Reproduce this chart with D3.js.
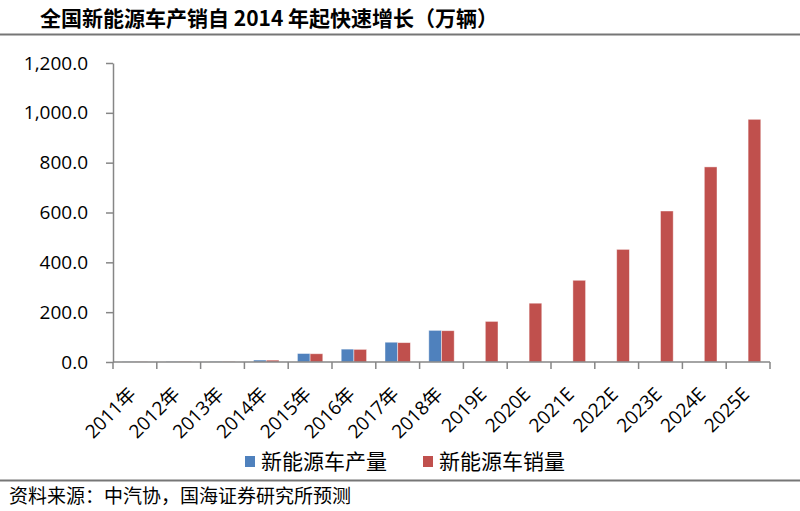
<!DOCTYPE html>
<html>
<head>
<meta charset="utf-8">
<script src="https://cdn.jsdelivr.net/npm/d3@7"></script>
<style>
  body { margin: 0; background: #fff; }
  svg { display: block; }
</style>
</head>
<body>
<div id="chart"></div>
<script>
// Data (万辆)
const years = ["2011年", "2012年", "2013年", "2014年", "2015年", "2016年", "2017年", "2018年",
    "2019E", "2020E", "2021E", "2022E", "2023E", "2024E", "2025E"];
const production = [0.84, 1.26, 1.75, 7.85, 34.05, 51.7, 79.4, 127.0,
    null, null, null, null, null, null, null];
const sales = [0.82, 1.28, 1.76, 7.48, 33.11, 50.7, 77.7, 125.6,
    163, 236, 328, 452, 606, 783, 974];
const seriesNames = ["新能源车产量", "新能源车销量"];
const seriesColors = ["#4F81BD", "#C0504D"];
const yTicks = [0, 200, 400, 600, 800, 1000, 1200];

const svgWidth = 800;
const svgHeight = 511;
const plot = { left: 113, right: 770, top: 63, bottom: 362 };

const svg = d3.select("#chart").append("svg")
    .attr("width", svgWidth)
    .attr("height", svgHeight);

const cjk = "'Noto Sans CJK SC', 'Noto Sans', sans-serif";
const latin = "'Open Sans', 'Noto Sans CJK SC', sans-serif";

// Title and separator lines
svg.append("text")
    .attr("x", 40)
    .attr("y", 26)
    .style("font-family", cjk)
    .style("font-size", "21px")
    .style("font-weight", "bold")
    .style("fill", "#000")
    .text("全国新能源车产销自 2014 年起快速增长（万辆）");

svg.append("line")
    .attr("x1", 0).attr("x2", svgWidth)
    .attr("y1", 34.5).attr("y2", 34.5)
    .style("stroke", "#767676")
    .style("stroke-width", 2);

svg.append("line")
    .attr("x1", 0).attr("x2", svgWidth)
    .attr("y1", 480.5).attr("y2", 480.5)
    .style("stroke", "#767676")
    .style("stroke-width", 2);

// Scales
const x = d3.scaleBand().domain(years).range([plot.left, plot.right]).paddingInner(0).paddingOuter(0);
const x1 = d3.scaleBand().domain([0, 1]).range([0, x.bandwidth()]).paddingInner(0).paddingOuter(0.725);
const y = d3.scaleLinear().domain([0, 1200]).range([plot.bottom, plot.top]);

// Bars
const rows = years.map((yr, i) => ({ year: yr, values: [production[i], sales[i]] }));

const groups = svg.append("g").selectAll("g")
    .data(rows)
    .enter().append("g")
    .attr("transform", d => `translate(${x(d.year)},0)`);

groups.selectAll("rect")
    .data(d => d.values.map((v, k) => ({ k: k, v: v })).filter(e => e.v !== null))
    .enter().append("rect")
    .attr("x", d => x1(d.k))
    .attr("width", x1.bandwidth())
    .attr("y", d => y(d.v))
    .attr("height", d => y(0) - y(d.v))
    .attr("fill", d => seriesColors[d.k])
    .style("stroke", "#ffffff")
    .style("stroke-opacity", 0.55)
    .style("stroke-width", 0.8);

// Y axis
const yAxis = svg.append("g")
    .attr("transform", `translate(${plot.left},0)`)
    .call(d3.axisLeft(y).tickValues(yTicks).tickFormat(d3.format(",.1f")).tickSize(7).tickPadding(18).tickSizeOuter(0));
yAxis.select(".domain").style("stroke", "#868686").style("stroke-width", 1.5);
yAxis.selectAll(".tick line").style("stroke", "#868686").style("stroke-width", 1.5);
yAxis.selectAll(".tick text")
    .style("font-family", latin)
    .style("font-size", "19px")
    .style("fill", "#000");

// X axis: line, boundary ticks, rotated labels
const xAxis = svg.append("g");
xAxis.append("line")
    .attr("x1", plot.left).attr("x2", plot.right)
    .attr("y1", y(0)).attr("y2", y(0))
    .style("stroke", "#868686")
    .style("stroke-width", 1.5);

xAxis.selectAll("line.tick")
    .data(d3.range(years.length + 1))
    .enter().append("line")
    .attr("class", "tick")
    .attr("x1", i => plot.left + i * x.step())
    .attr("x2", i => plot.left + i * x.step())
    .attr("y1", y(0))
    .attr("y2", y(0) + 7)
    .style("stroke", "#868686")
    .style("stroke-width", 1.5);

xAxis.selectAll("text")
    .data(years)
    .enter().append("text")
    .attr("transform", d => `translate(${x(d) + x.bandwidth() / 2 - 7},${y(0) + 24}) rotate(-45)`)
    .attr("text-anchor", "end")
    .attr("dy", "0.7em")
    .style("font-family", latin)
    .style("font-size", "19px")
    .style("fill", "#000")
    .text(d => d);

// Legend
const legendX = [245, 423];
const legend = svg.append("g").selectAll("g")
    .data(seriesNames)
    .enter().append("g")
    .attr("transform", (d, i) => `translate(${legendX[i]},456)`);

legend.append("rect")
    .attr("width", 10)
    .attr("height", 11)
    .attr("fill", (d, i) => seriesColors[i]);

legend.append("text")
    .attr("x", 16)
    .attr("y", 13)
    .style("font-family", cjk)
    .style("font-size", "21px")
    .style("fill", "#000")
    .text(d => d);

// Source note
svg.append("text")
    .attr("x", 9)
    .attr("y", 503)
    .style("font-family", cjk)
    .style("font-size", "19px")
    .style("fill", "#000")
    .text("资料来源：中汽协，国海证券研究所预测");
</script>
</body>
</html>
